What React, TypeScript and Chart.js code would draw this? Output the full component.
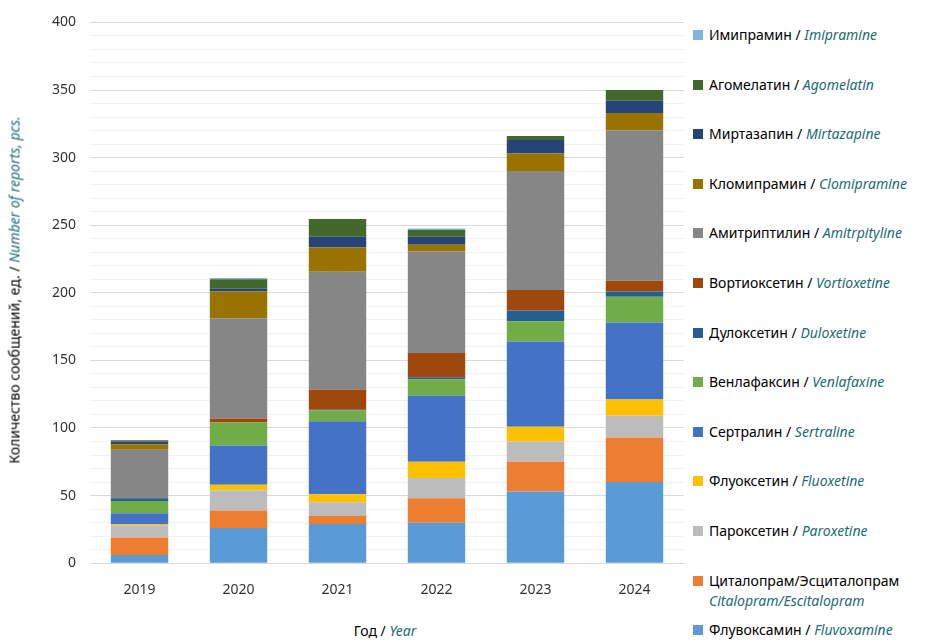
import React, { useEffect, useRef } from "react";
import { Chart, registerables } from "chart.js";
Chart.register(...registerables);

const years = ["2019", "2020", "2021", "2022", "2023", "2024"];
const fluvoxamine = [6, 26, 29, 30, 53, 60];
const citalopram = [13, 13, 6, 18, 22, 33];
const paroxetine = [9, 15, 10, 15, 15, 16];
const fluoxetine = [1, 4, 6, 12, 11, 12];
const sertraline = [8, 29, 54, 49, 63, 57];
const venlafaxine = [9, 17, 8, 12, 15, 19];
const duloxetine = [2, 0, 0.5, 1.5, 8, 4];
const vortioxetine = [0, 3, 15, 18, 15, 8];
const amitriptyline = [36, 74, 87, 75, 88, 111];
const clomipramine = [4, 20, 18, 5, 13, 13];
const mirtazapine = [2, 2, 8, 6, 10, 9];
const agomelatine = [1, 7, 13, 5, 3, 8];
const imipramine = [0, 1, 0, 1, 0, 0];

const series = [
  { ru: "Флувоксамин / ", en: "Fluvoxamine", data: fluvoxamine, color: "#5b9bd5" },
  { ru: "Циталопрам/Эсциталопрам", en: "Citalopram/Escitalopram", data: citalopram, color: "#ed7d31", two: true },
  { ru: "Пароксетин / ", en: "Paroxetine", data: paroxetine, color: "#bcbcbc" },
  { ru: "Флуоксетин / ", en: "Fluoxetine", data: fluoxetine, color: "#ffc000" },
  { ru: "Сертралин / ", en: "Sertraline", data: sertraline, color: "#4472c4" },
  { ru: "Венлафаксин / ", en: "Venlafaxine", data: venlafaxine, color: "#70ad47" },
  { ru: "Дулоксетин / ", en: "Duloxetine", data: duloxetine, color: "#255e91" },
  { ru: "Вортиоксетин / ", en: "Vortioxetine", data: vortioxetine, color: "#9e480e" },
  { ru: "Амитриптилин / ", en: "Amitrpityline", data: amitriptyline, color: "#868686" },
  { ru: "Кломипрамин / ", en: "Clomipramine", data: clomipramine, color: "#997300" },
  { ru: "Миртазапин / ", en: "Mirtazapine", data: mirtazapine, color: "#264478" },
  { ru: "Агомелатин / ", en: "Agomelatin", data: agomelatine, color: "#43682b" },
  { ru: "Имипрамин / ", en: "Imipramine", data: imipramine, color: "#7fb2e5" },
];

const FONT = "'Noto Sans', sans-serif";
const TEAL = "#1d6b73";

export default function App() {
  const ref = useRef<HTMLCanvasElement>(null);
  useEffect(() => {
    const chart = new Chart(ref.current!, {
      type: "bar",
      data: {
        labels: years,
        datasets: series.map((s) => ({
          label: s.en,
          data: s.data,
          backgroundColor: s.color,
          borderWidth: 0,
          categoryPercentage: 1,
          barPercentage: 0.58,
        })),
      },
      options: {
        animation: false,
        responsive: false,
        layout: { padding: { left: 38, top: 6, right: 4 } },
        plugins: { legend: { display: false }, tooltip: { enabled: false } },
        scales: {
          x: {
            stacked: true,
            grid: { display: false },
            border: { color: "#d9d9d9" },
            ticks: { color: "#333", font: { family: FONT, size: 14 }, padding: 10 },
          },
          y: {
            stacked: true,
            min: 0,
            max: 400,
            border: { display: false },
            grid: {
              color: (c: any) => (c.tick && c.tick.value % 50 === 0 ? "#d9d9d9" : "#f2f2f2"),
              drawTicks: false,
            },
            ticks: {
              stepSize: 10,
              autoSkip: false,
              padding: 14,
              color: "#333",
              font: { family: FONT, size: 14 },
              callback: (v: any) => (v % 50 === 0 ? String(v) : ""),
            },
          },
        },
      },
    });
    return () => chart.destroy();
  }, []);

  const legend = [...series].reverse();
  return (
    <div style={{ position: "fixed", left: 0, top: 0, width: 945, height: 643, background: "#fff", fontFamily: FONT, overflow: "hidden" }}>
      <canvas ref={ref} width={688} height={608} style={{ position: "absolute", left: 0, top: 0 }} />
      <div style={{ position: "absolute", left: 14, top: 290, width: 0, height: 0 }}>
        <div style={{ position: "absolute", transform: "translate(-50%,-50%) rotate(-90deg)", whiteSpace: "nowrap", fontSize: 14, color: "#000" }}>
          Количество сообщений, ед. / <i style={{ color: TEAL }}>Number of reports, pcs.</i>
        </div>
      </div>
      <div style={{ position: "absolute", left: 385, top: 630, transform: "translate(-50%,-50%)", whiteSpace: "nowrap", fontSize: 14 }}>
        Год / <i style={{ color: TEAL }}>Year</i>
      </div>
      {legend.map((s, i) => (
        <div key={s.en} style={{ position: "absolute", left: 693, top: 25 + i * 49.6, fontSize: 14, lineHeight: "20px", whiteSpace: "nowrap", color: "#000" }}>
          <span style={{ display: "inline-block", width: 10, height: 10, background: s.color, marginRight: 6, verticalAlign: "0px" }} />
          {s.two ? (
            <>
              {s.ru}
              <br />
              <i style={{ color: TEAL, marginLeft: 16 }}>{s.en}</i>
            </>
          ) : (
            <>
              {s.ru}
              <i style={{ color: TEAL }}>{s.en}</i>
            </>
          )}
        </div>
      ))}
    </div>
  );
}
